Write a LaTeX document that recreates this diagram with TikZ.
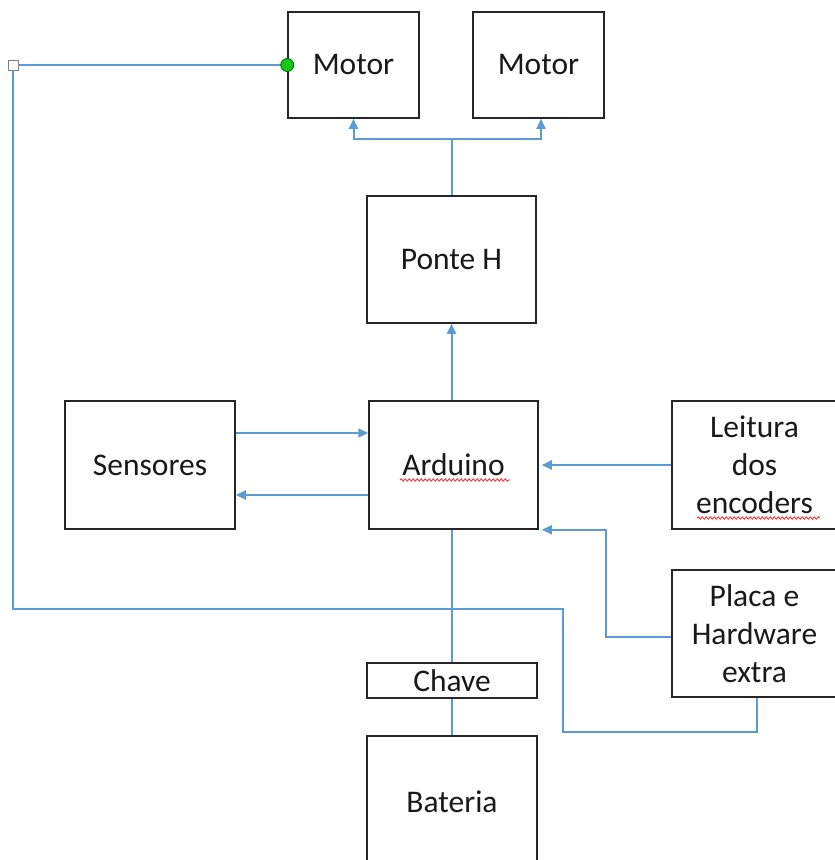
\documentclass[tikz,border=0pt]{standalone}
\usepackage{fontspec}
\setmainfont{Carlito}
\usetikzlibrary{arrows.meta,decorations.pathmorphing}
\definecolor{lnblue}{RGB}{91,155,213}
\definecolor{dotgreen}{RGB}{20,200,20}
\begin{document}
\begin{tikzpicture}[x=1pt,y=-1pt,
  blk/.style={draw=black!85, line width=1.5pt, inner sep=0pt, align=center,
    font=\fontsize{31.5}{38}\selectfont, text=black!90},
  conn/.style={draw=lnblue, line width=2pt},
  arr/.style={conn, -{Triangle[length=10pt,width=9pt]}},
  spell/.style={draw=red!85, line width=0.8pt, decorate,
    decoration={snake, amplitude=1.2pt, segment length=4pt}}]
\useasboundingbox (0,0) rectangle (835,860);
\clip (0,0) rectangle (835,860);
\fill[white] (0,0) rectangle (835,860);

% blocks
\node[blk, minimum width=131pt, minimum height=106pt] (m1) at (353.5,65) {Motor};
\node[blk, minimum width=131pt, minimum height=106pt] (m2) at (538.5,65) {Motor};
\node[blk, minimum width=169pt, minimum height=127pt] (ph) at (451.5,259.5) {Ponte H};
\node[blk, minimum width=169pt, minimum height=128pt] (ard) at (453.5,465) {Arduino};
\node[blk, minimum width=170pt, minimum height=128pt] (sens) at (150,465) {Sensores};
\node[blk, minimum width=165pt, minimum height=128pt] (leit) at (754.5,465) {Leitura\\dos\\encoders};
\node[blk, minimum width=165pt, minimum height=127pt] (placa) at (754.5,633.5) {Placa e\\Hardware\\extra};
\node[blk, minimum width=170pt, minimum height=35pt] (chave) at (452,680.5) {Chave};
\node[blk, minimum width=170pt, minimum height=132pt] (bat) at (452,802) {Bateria};

% spell-check underlines
\draw[spell] (400,480) -- (510,480);
\draw[spell] (697,518) -- (820,518);

% Ponte H to motors
\draw[conn] (ph.north) -- ++(0,-56) coordinate (j);
\draw[arr] (j) -| (m1.south);
\draw[arr] (j) -| ([xshift=2.5pt]m2.south);

% Arduino to Ponte H
\draw[arr] (ard.north -| ph.south) -- (ph.south);

% Sensores <-> Arduino
\draw[arr] ([yshift=32pt]sens.east) -- ([yshift=32pt]ard.west);
\draw[arr] ([yshift=-30pt]ard.west) -- ([yshift=-30pt]sens.east);

% Leitura -> Arduino
\draw[arr] (leit.west) -- ([xshift=3pt]ard.east);

% Placa -> Arduino
\draw[arr] ([yshift=-3.5pt]placa.west) -- ++(-65,0) |- ([xshift=3pt]ard.south east);

% Arduino - Chave - Bateria
\draw[conn] (chave.north) -- (chave.north |- ard.south);
\draw[conn] (chave.south) -- (bat.north);

% Placa back to Motor
\coordinate (sq) at (13,65);
\draw[conn] ([xshift=2.5pt]placa.south) -- ++(0,34) -| (563,609) -| (sq) -- (m1.west);
\draw[gray, fill=white, line width=0.8pt] ([shift={(-5,-5)}]sq) rectangle ([shift={(5,5)}]sq);
\draw[black!60!green, fill=dotgreen, line width=0.8pt] (m1.west) circle (6.5pt);
\end{tikzpicture}
\end{document}
